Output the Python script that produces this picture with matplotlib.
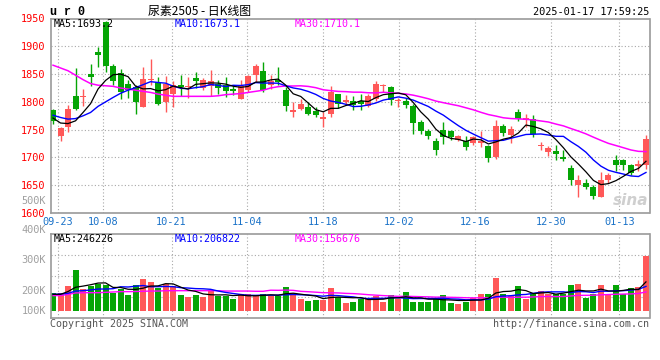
import matplotlib
matplotlib.use("Agg")
import matplotlib.pyplot as plt
import matplotlib.transforms as mtrans
import numpy as np

# ---------------- data ----------------
date_labels = ["09-23", "10-08", "10-21", "11-04", "11-18", "12-02", "12-16", "12-30", "01-13"]
date_index = [1, 7, 16, 26, 36, 46, 56, 66, 75]

opens = [1786, 1739, 1754, 1811, 1809, 1851, 1890, 1943, 1864, 1852,
         1832, 1827, 1790, 1839, 1836, 1799, 1815, 1830, 1827, 1843,
         1825, 1828, 1832, 1830, 1823, 1806, 1821, 1849, 1855, 1830,
         1840, 1821, 1781, 1787, 1791, 1784, 1770, 1779, 1814, 1800,
         1801, 1801, 1793, 1805, 1828, 1827, 1802, 1801, 1792, 1764,
         1747, 1729, 1749, 1747, 1732, 1730, 1726, 1726, 1720, 1701,
         1756, 1740, 1781, 1767, 1769, 1720, 1710, 1711, 1700, 1682,
         1651, 1655, 1647, 1629, 1659, 1696, 1696, 1686, 1685, 1686]
closes = [1766, 1753, 1788, 1787, 1811, 1845, 1885, 1865, 1838, 1817,
          1822, 1799, 1841, 1841, 1796, 1833, 1831, 1827, 1829, 1838,
          1839, 1838, 1825, 1820, 1819, 1829, 1846, 1864, 1821, 1838,
          1836, 1792, 1786, 1797, 1779, 1776, 1773, 1817, 1797, 1804,
          1795, 1797, 1810, 1832, 1831, 1803, 1804, 1794, 1762, 1747,
          1738, 1714, 1737, 1736, 1738, 1719, 1736, 1730, 1699, 1756,
          1744, 1751, 1770, 1771, 1743, 1723, 1717, 1707, 1698, 1660,
          1659, 1647, 1630, 1660, 1669, 1686, 1686, 1673, 1688, 1733]
highs = [1788, 1755, 1794, 1861, 1823, 1868, 1899, 1945, 1868, 1860,
         1840, 1830, 1863, 1878, 1845, 1847, 1838, 1848, 1844, 1854,
         1843, 1858, 1840, 1844, 1828, 1840, 1849, 1869, 1871, 1849,
         1862, 1827, 1799, 1805, 1799, 1791, 1782, 1829, 1815, 1812,
         1811, 1814, 1814, 1838, 1833, 1829, 1807, 1807, 1797, 1768,
         1752, 1735, 1764, 1750, 1741, 1738, 1739, 1748, 1723, 1768,
         1761, 1756, 1788, 1779, 1777, 1728, 1721, 1722, 1713, 1687,
         1668, 1661, 1650, 1674, 1673, 1705, 1697, 1688, 1695, 1740]
lows = [1760, 1730, 1746, 1785, 1793, 1828, 1863, 1853, 1830, 1806,
        1807, 1778, 1790, 1830, 1794, 1781, 1790, 1810, 1807, 1825,
        1822, 1810, 1814, 1808, 1812, 1805, 1818, 1835, 1818, 1823,
        1830, 1783, 1773, 1785, 1777, 1773, 1755, 1773, 1789, 1797,
        1786, 1786, 1790, 1801, 1818, 1795, 1790, 1789, 1743, 1742,
        1733, 1704, 1725, 1732, 1730, 1714, 1722, 1718, 1692, 1697,
        1739, 1726, 1766, 1755, 1737, 1713, 1702, 1695, 1693, 1650,
        1629, 1643, 1626, 1629, 1655, 1675, 1677, 1669, 1675, 1679]

# volume, thousands of lots
vol_k = [155, 155, 212, 347, 186, 212, 226, 220, 155, 184,
         136, 220, 271, 246, 192, 229, 209, 136, 121, 136,
         121, 175, 127, 127, 102, 144, 144, 127, 144, 127,
         127, 206, 150, 102, 85, 93, 93, 197, 121, 70,
         79, 102, 113, 127, 79, 136, 102, 161, 79, 79,
         79, 102, 136, 70, 59, 79, 113, 144, 144, 282,
         141, 127, 212, 102, 155, 169, 144, 144, 144, 220,
         229, 113, 144, 220, 144, 220, 144, 197, 203, 469]

# moving-average values before a full window is visible
ma5_head = [1771, 1762, 1761, 1766]
ma10_head = [1776, 1772, 1769, 1770, 1775, 1781, 1792, 1800, 1808]
ma30_head = [1866, 1861, 1856, 1848, 1840, 1833, 1830, 1829, 1828, 1825,
             1823, 1821, 1819, 1817, 1814, 1812, 1810, 1810, 1810, 1810,
             1810, 1810, 1811, 1813, 1814, 1815, 1817, 1819, 1821]
vma5_head = [141, 141, 165, 201]
vma10_head = [141, 144, 150, 169, 172, 178, 186, 186, 189]
vma30_head = [130, 131, 140, 153, 155, 155, 155, 158, 161, 164,
              164, 165, 167, 169, 169, 172, 172, 172, 172, 172,
              172, 172, 172, 169, 169, 169, 169, 167, 167]

price_ticks = [1600, 1650, 1700, 1750, 1800, 1850, 1900, 1950]
vol_label_text = ["100K", "200K", "300K", "400K", "500K"]
vol_label_pos = [0, 170, 432, 686, 932]

price_header = ["MA5:1693.2", "MA10:1673.1", "MA30:1710.1"]
vol_header = ["MA5:246226", "MA10:206822", "MA30:156676"]

# ---------------- helpers ----------------
def rolling(vals, n, head):
    out = list(head)
    for i in range(len(head), len(vals)):
        out.append(float(np.mean(vals[i - n + 1:i + 1])))
    return out

N = len(closes)
x = np.arange(N)
ma5 = rolling(closes, 5, ma5_head)
ma10 = rolling(closes, 10, ma10_head)
ma30 = rolling(closes, 30, ma30_head)
vma5 = rolling(vol_k, 5, vma5_head)
vma10 = rolling(vol_k, 10, vma10_head)
vma30 = rolling(vol_k, 30, vma30_head)

RED = "#ff5858"
GREEN = "#05a505"
GRID = "#a8a8a8"
BORDER = "#9a9a9a"
MONO = "DejaVu Sans Mono"
W, H = 660, 360

fig = plt.figure(figsize=(6.6, 3.6), dpi=100)
fig.patch.set_facecolor("white")

def fx(px):
    return px / W

def fy(py):
    return 1 - py / H

L, R = 50.7, 649.5
ax = fig.add_axes([fx(L), fy(213.1), fx(R) - fx(L), fy(18.5) - fy(213.1)])
axv = fig.add_axes([fx(L), fy(318.3), fx(R) - fx(L), fy(234.3) - fy(318.3)])

XMIN, XMAX = -0.31, 79.47
grid_x = [1.011 * i - 0.385 for i in date_index]

# ---------------- price panel ----------------
ax.set_xlim(XMIN, XMAX)
ax.set_ylim(1600, 1950)
dot = (0, (1, 2))
for p in price_ticks[1:-1]:
    ax.axhline(p, color=GRID, lw=0.8, ls=dot, zorder=0)
for gx in grid_x:
    ax.axvline(gx, color=GRID, lw=0.8, ls=dot, zorder=0)

cols = [RED if c >= o else GREEN for o, c in zip(opens, closes)]
ax.vlines(x, lows, highs, colors=cols, lw=1.0, zorder=2)
bottoms = [min(o, c) for o, c in zip(opens, closes)]
heights = [max(abs(c - o), 1.3) for o, c in zip(opens, closes)]
ax.bar(x, heights, bottom=bottoms, width=0.8, color=cols, lw=0, zorder=3)

ax.plot(x, ma30, color="#ff00ff", lw=1.1, zorder=4)
ax.plot(x, ma10, color="#0000ff", lw=1.0, zorder=5)
ax.plot(x, ma5, color="black", lw=0.9, zorder=6)

ax.set_yticks(price_ticks)
ax.set_yticklabels([str(p) for p in price_ticks], color="#ff0000",
                   fontsize=7.4, family=MONO)
ax.set_xticks(grid_x)
ax.set_xticklabels(date_labels, color="#1a72c8", fontsize=7.4, family=MONO)
ax.tick_params(axis="both", length=0)
ax.tick_params(axis="y", pad=4)
ax.tick_params(axis="x", pad=3)
for s in ax.spines.values():
    s.set_color(BORDER)
    s.set_linewidth(1.2)

ax.text(0.998, 0.065, "sina", transform=ax.transAxes, ha="right", va="center",
        fontsize=11, fontweight="bold", style="italic", color="#cfcfcf", zorder=1)

# ---------------- volume panel ----------------
axv.set_xlim(XMIN, XMAX)
axv.set_ylim(-62, 650)
for fr in [0.25, 0.5, 0.75]:
    axv.plot([0, 1], [fr, fr], transform=axv.transAxes, color=GRID, lw=0.8,
             ls=dot, zorder=0)
for gx in grid_x:
    axv.axvline(gx, color=GRID, lw=0.8, ls=dot, zorder=0)

axv.bar(x, vol_k, width=0.8, color=cols, lw=0, zorder=2)
axv.plot(x, vma30, color="#ff00ff", lw=1.0, zorder=3)
axv.plot(x, vma10, color="#0000ff", lw=1.0, zorder=4)
axv.plot(x, vma5, color="black", lw=0.9, zorder=5)

axv.set_xticks([])
axv.set_yticks([])
for s in axv.spines.values():
    s.set_color(BORDER)
    s.set_linewidth(1.2)
tr = mtrans.blended_transform_factory(axv.transAxes, axv.transData)
for t, v in zip(vol_label_text, vol_label_pos):
    axv.text(-0.008, v, t, transform=tr, ha="right", va="center", color="#a0a0a0",
             fontsize=7.4, family=MONO, clip_on=False)

# ---------------- header / footer texts ----------------
fig.text(fx(50), fy(12), "u r 0", fontsize=8.5, fontweight="bold",
         family="Liberation Mono", va="center", ha="left", color="black")
fig.text(fx(200), fy(11.5), "尿素2505 - 日K线图", fontsize=8.6,
         family=["Noto Sans CJK SC", "DejaVu Sans"], va="center", ha="center",
         color="black")
fig.text(fx(649), fy(12), "2025-01-17 17:59:25", fontsize=7.4, family=MONO,
         va="center", ha="right", color="black")

hdr_x = [54, 174.5, 295]
hdr_c = ["black", "#0000ff", "#ff00ff"]
for t, hx, c in zip(price_header, hdr_x, hdr_c):
    fig.text(fx(hx), fy(24), t, fontsize=7.2, family=MONO, va="center",
             ha="left", color=c)
for t, hx, c in zip(vol_header, hdr_x, hdr_c):
    fig.text(fx(hx), fy(239.5), t, fontsize=7.2, family=MONO, va="center",
             ha="left", color=c)

fig.text(fx(50), fy(324), "Copyright 2025 SINA.COM", fontsize=7.2, family=MONO,
         va="center", ha="left", color="#555555")
fig.text(fx(649), fy(324), "http://finance.sina.com.cn", fontsize=7.2,
         family=MONO, va="center", ha="right", color="#555555")

fig.savefig("out.png", dpi=100, facecolor="white")
